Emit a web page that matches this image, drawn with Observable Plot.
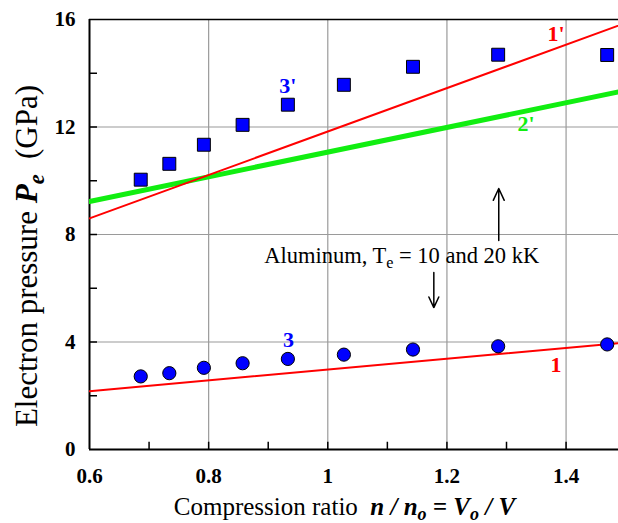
<!DOCTYPE html>
<html><head><meta charset="utf-8">
<script src="https://cdn.jsdelivr.net/npm/d3@7"></script>
<script src="https://cdn.jsdelivr.net/npm/@observablehq/plot@0.6"></script>
<style>body{margin:0;background:#fff}</style>
</head><body><div id="chart"></div>
<script>
// Data
const ratio = [0.686, 0.734, 0.792, 0.857, 0.933, 1.027, 1.143, 1.286, 1.469];
const pe10kK = [2.72, 2.84, 3.04, 3.21, 3.37, 3.53, 3.72, 3.84, 3.91];   // series 3 (circles)
const pe20kK = [10.04, 10.63, 11.34, 12.08, 12.83, 13.57, 14.24, 14.69, 14.68]; // series 3' (squares)
const lineX = [0.6, 1.5];
const line1 = [2.17, 3.98];
const line1p = [8.6, 15.87];
const line2p = [9.23, 13.36];
const xTicks = [0.6, 0.8, 1.0, 1.2, 1.4];
const xTickLabels = ["0.6", "0.8", "1", "1.2", "1.4"];
const yTicks = [0, 4, 8, 12, 16];
const xMinor = [0.7, 0.9, 1.1, 1.3];
const yMinor = [2, 6, 10, 14];
const curveNames = ["1'", "2'", "3'", "3", "1"];
const curveNameX = [1.383, 1.333, 0.933, 0.934, 1.383];
const curveNameY = [15.48, 12.13, 13.54, 4.06, 3.13];
const curveNameColor = ["#ff0000", "#11ee11", "#0000ff", "#0000ff", "#ff0000"];
const arrowX = [1.287, 1.178];
const arrowFrom = [7.78, 6.59];
const arrowTo = [9.71, 5.28];
const noteX = 0.894, noteY = 6.92;

const serif = "'Liberation Serif', 'Times New Roman', serif";
const points = ratio.map((r, i) => ({r, lo: pe10kK[i], hi: pe20kK[i]}));
const lineRows = lineX.map((x, i) => ({x, a: line1[i], b: line1p[i], c: line2p[i]}));
const names = curveNames.map((t, i) => ({t, x: curveNameX[i], y: curveNameY[i], c: curveNameColor[i]}));
const arrows = arrowX.map((x, i) => ({x, y1: arrowFrom[i], y2: arrowTo[i]}));

function addParts(textSel, parts) {
  for (const p of parts) {
    const ts = textSel.append("tspan").text(p.t);
    if (p.i) ts.attr("font-style", "italic");
    if (p.b) ts.attr("font-weight", "bold");
    if (p.sub) { ts.attr("dy", "0.3em").attr("font-size", "0.72em"); }
    if (p.up) ts.attr("dy", "-0.216em");
  }
}

const chart = Plot.plot({
  width: 618,
  height: 523,
  marginLeft: 89,
  marginRight: 0,
  marginTop: 19,
  marginBottom: 74,
  style: {fontFamily: serif, background: "white"},
  x: {domain: [0.6, 1.488]},
  y: {domain: [0, 16]},
  marks: [
    Plot.ruleX([0.8, 1.0, 1.2, 1.4], {stroke: "#9a9a9a", strokeWidth: 1.2}),
    Plot.ruleY([4, 8, 12], {stroke: "#9a9a9a", strokeWidth: 1.2}),
    Plot.ruleY([16], {stroke: "black", strokeWidth: 1.5}),
    Plot.ruleX(xTicks.slice(1).concat(xMinor), {x: d => d, y1: 0, y2: 0.27, stroke: "black", strokeWidth: 1.5}),
    Plot.ruleY(yTicks.slice(1, 4).concat(yMinor), {y: d => d, x1: 0.6, x2: 0.6 + 8 / 596, stroke: "black", strokeWidth: 1.5}),
    Plot.ruleX([0.6], {stroke: "black", strokeWidth: 2}),
    Plot.ruleY([0], {stroke: "black", strokeWidth: 2}),
    Plot.axisX({ticks: xTicks, tickFormat: d => xTickLabels[xTicks.indexOf(d)], tickSize: 0, tickPadding: 19,
      fontSize: 21, fontWeight: "bold", fontFamily: serif, label: null}),
    Plot.axisY({ticks: yTicks, tickFormat: d => String(d), tickSize: 0, tickPadding: 14,
      fontSize: 21, fontWeight: "bold", fontFamily: serif, label: null}),
    Plot.line(lineRows, {x: "x", y: "c", stroke: "#11ee11", strokeWidth: 5, clip: true}),
    Plot.line(lineRows, {x: "x", y: "b", stroke: "#ff0000", strokeWidth: 2, clip: true}),
    Plot.line(lineRows, {x: "x", y: "a", stroke: "#ff0000", strokeWidth: 2, clip: true}),
    Plot.dot(points, {x: "r", y: "hi", symbol: "square", r: 7.3, fill: "#0000ff", stroke: "black", strokeWidth: 1}),
    Plot.dot(points, {x: "r", y: "lo", symbol: "circle", r: 6.6, fill: "#0000ff", stroke: "black", strokeWidth: 1}),
    Plot.text(names, {x: "x", y: "y", text: "t", fill: "c", fontSize: 22, fontWeight: "bold", fontFamily: serif}),
    Plot.arrow(arrows, {x1: "x", x2: "x", y1: "y1", y2: "y2", stroke: "black", strokeWidth: 1.5, headLength: 13, headAngle: 50})
  ]
});

// Rich (sub/italic) texts positioned with the chart's own scales
const sx = chart.scale("x").apply, sy = chart.scale("y").apply;
const svg = d3.select(chart);
const g = svg.append("g").style("font-family", serif).attr("fill", "black").attr("text-anchor", "start").style("white-space", "pre");
const xt = g.append("text").attr("x", (sx(0.6) + sx(1.488)) / 2 - 9).attr("y", 515).attr("text-anchor", "middle").attr("font-size", 25);
addParts(xt, [
  {t: "Compression ratio  "},
  {t: "n / n", i: 1, b: 1},
  {t: "o", i: 1, b: 1, sub: 1},
  {t: " = V", i: 1, b: 1, up: 1},
  {t: "o", i: 1, b: 1, sub: 1},
  {t: " / V", i: 1, b: 1, up: 1}
]);
const yt = g.append("text").attr("transform", "translate(37,256) rotate(-90)").attr("text-anchor", "middle").attr("font-size", 31);
addParts(yt, [
  {t: "Electron pressure "},
  {t: "P", i: 1, b: 1},
  {t: "e", i: 1, b: 1, sub: 1},
  {t: "  (GPa)", up: 1}
]);
const at = g.append("text").attr("x", sx(noteX)).attr("y", sy(noteY)).attr("font-size", 22.5);
addParts(at, [
  {t: "Aluminum, T"},
  {t: "e", sub: 1},
  {t: " = 10 and 20 kK", up: 1}
]);
document.getElementById("chart").appendChild(chart);
</script>
</body></html>
